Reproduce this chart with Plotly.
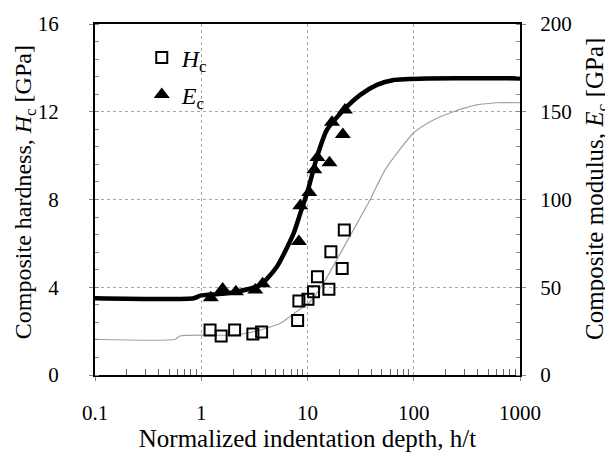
import plotly.graph_objects as go

# ---- data ----
hc_x = [1.21, 1.54, 2.06, 3.06, 3.70, 8.07, 8.30, 10.1, 11.4, 12.4, 15.9, 16.6, 21.2, 22.2]
hc_y = [2.05, 1.78, 2.05, 1.87, 1.96, 2.48, 3.37, 3.45, 3.80, 4.48, 3.91, 5.62, 4.86, 6.61]

ec_x = [1.23, 1.59, 2.12, 3.22, 3.78, 8.3, 8.55, 10.4, 11.6, 12.4, 16.1, 17.0, 21.5, 22.5]
ec_y = [44, 49, 47.5, 48.5, 52, 76, 96.5, 104, 117, 124, 121, 144, 137, 151]

ecfit_x = [0.1, 0.85, 0.98, 1.75, 3.59, 5.15, 7.40, 8.55, 10.1, 12.3, 15.2, 21.9, 31.4, 45, 64.6, 133, 1000]
ecfit_y = [43.7, 43.7, 45.2, 46.5, 51.3, 61.7, 80.7, 92.1, 105.4, 124.4, 139.6, 151, 159.6, 165.3, 168.1, 169, 169]

hcfit_x = [0.1, 0.57, 0.63, 2.0, 3.0, 4.0, 5.5, 7.9, 10.6, 14.1, 18.8, 27, 38.7, 53.6, 99, 153, 236, 392, 604, 1000]
hcfit_y = [1.63, 1.63, 1.78, 1.82, 1.95, 2.12, 2.35, 2.89, 3.34, 4.18, 5.24, 6.61, 7.98, 9.34, 11.02, 11.62, 12.0, 12.31, 12.41, 12.41]

x_tickvals = [0.1, 1, 10, 100, 1000]
x_ticktext = ["0.1", "1", "10", "100", "1000"]
yl_tickvals = [0, 4, 8, 12, 16]
yr_tickvals = [0, 50, 100, 150, 200]

x_title = "Normalized indentation depth, h/t"
yl_title = "Composite hardness, <i>H</i><sub>c</sub> [GPa]"
yr_title = "Composite modulus, <i>E</i><sub>c</sub> [GPa]"

FONT = "Liberation Serif, Times New Roman, serif"

x_minor = [m * 10.0 ** d for d in range(-1, 3) for m in range(2, 10)]

fig = go.Figure()

fig.add_trace(go.Scatter(x=hcfit_x, y=hcfit_y, mode="lines",
                         line=dict(color="#a0a0a0", width=1.2, shape="spline", smoothing=0.6),
                         showlegend=False, hoverinfo="skip"))
fig.add_trace(go.Scatter(x=ecfit_x, y=ecfit_y, mode="lines", yaxis="y2",
                         line=dict(color="black", width=4.5, shape="spline", smoothing=0.6),
                         showlegend=False, hoverinfo="skip"))
fig.add_trace(go.Scatter(x=hc_x, y=hc_y, mode="markers", name="<i>H</i><sub>c</sub>",
                         legend="legend",
                         marker=dict(symbol="square-open", size=11, color="black",
                                     line=dict(width=2, color="black"))))
fig.add_trace(go.Scatter(x=ec_x, y=ec_y, mode="markers", name="<i>E</i><sub>c</sub>",
                         yaxis="y2", legend="legend2",
                         marker=dict(symbol="triangle-up", size=14, color="black",
                                     line=dict(width=0))))

leg_common = dict(xanchor="left", yanchor="middle", bgcolor="rgba(0,0,0,0)",
                  font=dict(size=24, family=FONT), itemsizing="trace")

# page body has an 8px default margin, so the figure is 8px smaller
fig.update_layout(
    width=605, height=451,
    margin=dict(l=87, r=93, t=16, b=84),
    paper_bgcolor="white", plot_bgcolor="white",
    font=dict(family=FONT, size=20, color="black"),
    showlegend=True,
    legend=dict(x=0.11, y=(351 - 34) / 351, **leg_common),
    legend2=dict(x=0.11, y=(351 - 71) / 351, **leg_common),
    xaxis=dict(
        type="log", range=[-1, 3], automargin=False,
        tickvals=x_tickvals, ticktext=x_ticktext,
        showline=True, linecolor="black", linewidth=2, mirror=True,
        showgrid=True, gridcolor="#a8a8a8", griddash="dot", gridwidth=1,
        ticks="outside", ticklen=4, tickcolor="#888",
        ticklabelstandoff=14,
        tickfont=dict(size=21),
        minor=dict(tickvals=x_minor, ticks="inside", ticklen=6, tickcolor="#666",
                   showgrid=False),
        zeroline=False,
        title=dict(text=x_title, standoff=4, font=dict(size=25, family=FONT)),
    ),
    yaxis=dict(
        range=[0, 16], tickvals=yl_tickvals, automargin=False,
        showline=True, linecolor="black", linewidth=2,
        showgrid=True, gridcolor="#a8a8a8", griddash="dot", gridwidth=1,
        ticks="outside", ticklen=4, tickcolor="#888",
        ticklabelstandoff=26,
        tickfont=dict(size=21),
        minor=dict(dtick=0.8, ticks="inside", ticklen=4, tickcolor="#888", showgrid=False),
        zeroline=False,
    ),
    yaxis2=dict(
        overlaying="y", side="right", automargin=False,
        range=[0, 200], tickvals=yr_tickvals,
        showline=True, linecolor="black", linewidth=2,
        showgrid=False,
        ticks="outside", ticklen=4, tickcolor="#888",
        ticklabelstandoff=10,
        tickfont=dict(size=21),
        minor=dict(dtick=10, ticks="inside", ticklen=4, tickcolor="#888", showgrid=False),
        zeroline=False,
    ),
    annotations=[
        dict(text=yl_title, xref="paper", yref="paper", x=-0.163, y=0.52,
             xanchor="center", yanchor="middle", textangle=-90, showarrow=False,
             font=dict(size=24, family=FONT)),
        dict(text=yr_title, xref="paper", yref="paper", x=1.181, y=0.53,
             xanchor="center", yanchor="middle", textangle=-90, showarrow=False,
             font=dict(size=25, family=FONT)),
    ],
)

fig.write_html("out.html")
